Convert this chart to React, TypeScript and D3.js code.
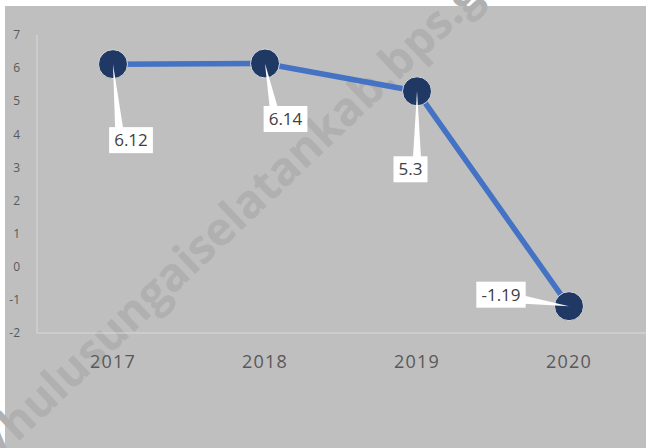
import React from "react";
import * as d3 from "d3";

const years: string[] = ["2017", "2018", "2019", "2020"];
const values: number[] = [6.12, 6.14, 5.3, -1.19];
const valueLabels: string[] = ["6.12", "6.14", "5.3", "-1.19"];
const yTicks: number[] = [-2, -1, 0, 1, 2, 3, 4, 5, 6, 7];
// label box centre offsets from their point (layout, px)
const labelOffsets: [number, number][] = [
  [18, 76],
  [20.5, 55.5],
  [-6.5, 78],
  [-68, -11.5],
];

const W = 646;
const H = 448;
const FONT = "'Open Sans', 'Noto Sans', sans-serif";

export default function App() {
  const x = d3.scaleBand<string>().domain(years).range([37, 645]);
  const y = d3.scaleLinear().domain([-2, 7]).range([333, 35]);
  const cx = (d: string) => (x(d) as number) + x.bandwidth() / 2;

  const pts = years.map((yr, i) => ({ x: cx(yr), y: y(values[i]), label: valueLabels[i], off: labelOffsets[i] }));
  const line = d3
    .line<{ x: number; y: number }>()
    .x((d) => d.x)
    .y((d) => d.y);

  const labelFont = 17;
  const charW = (s: string) =>
    s.split("").reduce((a, c) => a + (c === "." ? 0.27 : c === "-" ? 0.33 : 0.572), 0) * labelFont;

  return (
    <div style={{ position: "absolute", left: 0, top: 0 }}>
      <svg width={W} height={H} style={{ display: "block" }}>
        <rect x={0} y={0} width={W} height={H} fill="#ffffff" />
        <rect x={5} y={6} width={W - 5} height={H - 6} fill="#bfbfbf" />
        {/* watermark */}
        <g transform="translate(17,443) rotate(-43.5)" fontFamily="'Open Sans', 'Liberation Sans', sans-serif" fontWeight="bold" fontSize={46} fill="#b0b0b0">
          <text x={0} y={0} textAnchor="end">https://</text>
          <text x={0} y={0}>hulusungaiselatankab.bps.go.id</text>
        </g>
        {/* axes */}
        <line x1={37} x2={37} y1={y(7)} y2={y(-2)} stroke="#d9d9d9" strokeWidth={1} />
        <line x1={37} x2={W} y1={y(-2)} y2={y(-2)} stroke="#d9d9d9" strokeWidth={1} />
        {yTicks.map((t) => (
          <text key={t} x={20} y={y(t)} dy="0.35em" textAnchor="end" fontFamily={FONT} fontSize={12} fill="#595959">
            {t}
          </text>
        ))}
        {years.map((yr) => (
          <text key={yr} x={cx(yr)} y={368} textAnchor="middle" fontFamily={FONT} fontSize={18} letterSpacing={1.2} fill="#595959">
            {yr}
          </text>
        ))}
        {/* line */}
        <path d={line(pts) as string} fill="none" stroke="#4472c4" strokeWidth={5.5} strokeLinejoin="round" />
        {pts.map((p, i) => (
          <circle key={i} cx={p.x} cy={p.y} r={14.5} fill="#1f3864" stroke="#d9d9d9" strokeWidth={1} />
        ))}
        {/* labels */}
        {pts.map((p, i) => {
          const bw = charW(p.label) + 10;
          const bh = 26;
          const bcx = p.x + p.off[0];
          const bcy = p.y + p.off[1];
          const left = bcx - bw / 2;
          const right = bcx + bw / 2;
          const top = bcy - bh / 2;
          const bottom = bcy + bh / 2;
          let wedge = "";
          const hw = 4;
          if (p.y < top || p.y > bottom) {
            const ey = p.y < top ? top : bottom;
            const bx = Math.max(left + 10, Math.min(right - 10, p.x));
            wedge = `M${p.x},${p.y}L${bx - hw},${ey + (p.y < top ? 1 : -1)}L${bx + hw},${ey + (p.y < top ? 1 : -1)}Z`;
          } else {
            const ex = p.x > right ? right : left;
            const by = Math.max(top + 8, Math.min(bottom - 8, p.y));
            wedge = `M${p.x},${p.y}L${ex + (p.x > right ? -1 : 1)},${by - hw}L${ex + (p.x > right ? -1 : 1)},${by + hw}Z`;
          }
          return (
            <g key={i}>
              <path d={wedge} fill="#ffffff" />
              <rect x={left} y={top} width={bw} height={bh} fill="#ffffff" />
              <text x={bcx} y={bcy} dy="0.36em" textAnchor="middle" fontFamily={FONT} fontSize={labelFont} fill="#404040">
                {p.label}
              </text>
            </g>
          );
        })}
      </svg>
    </div>
  );
}
